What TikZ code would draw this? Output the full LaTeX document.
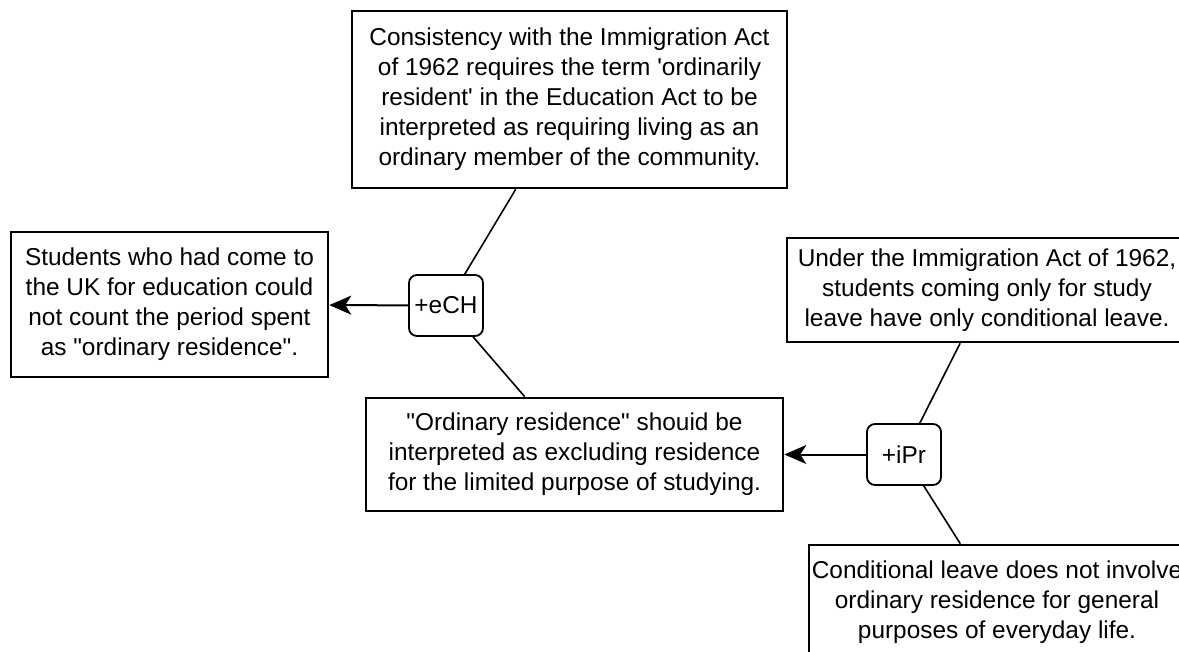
\documentclass[tikz,border=0pt]{standalone}
\usepackage{fontspec}
\setmainfont{Liberation Sans}[Ligatures=TeXOff]
\usetikzlibrary{arrows.meta}
\begin{document}
\begin{tikzpicture}[x=1pt,y=-1pt,
  claim/.style={draw=black, line width=2.6pt, fill=white, rectangle, align=center, inner sep=0pt,
     font=\fontsize{24.4}{30}\selectfont},
  rel/.style={draw=black, line width=1.8pt, fill=white, rounded corners=8pt, inner sep=0pt,
     minimum width=74pt, minimum height=61pt, font=\fontsize{24.4}{30}\selectfont},
  link/.style={line width=1.6pt},
  arr/.style={line width=2pt, -{Stealth[length=22pt,width=19pt,inset=6pt]}}]
\useasboundingbox (0,0) rectangle (1179,652);
\clip (0,0) rectangle (1179,652);
\fill[white] (0,0) rectangle (1179,652);
\node[claim, minimum width=435pt, minimum height=177pt] (top) at (569.5,99.5)
  {Consistency with the Immigration Act\\ of 1962 requires the term 'ordinarily\\ resident' in the Education Act to be\\ interpreted as requiring living as an\\ ordinary member of the community.};
\node[claim, minimum width=317pt, minimum height=145pt] (left) at (169.5,304.5)
  {Students who had come to\\ the UK for education could\\ not count the period spent\\ as "ordinary residence".};
\node[claim, minimum width=417pt, minimum height=113pt] (mid) at (574.5,454.5)
  {"Ordinary residence" shouid be\\ interpreted as excluding residence\\ for the limited purpose of studying.};
\node[claim, minimum width=400pt, minimum height=104pt] (rt) at (987,290)
  {Under the Immigration Act of 1962,\\ students coming only for study\\ leave have only conditional leave.};
\node[claim, minimum width=376pt, minimum height=114pt] (bot) at (997,602)
  {Conditional leave does not involve\\ ordinary residence for general\\ purposes of everyday life.};
\node[rel] (ech) at (446,305.5) {+eCH};
\node[rel] (ipr) at (904,454.5) {+iPr};
\draw[link] (top) -- (ech);
\draw[link] (ech) -- (mid);
\draw[arr] (ech) -- (left);
\draw[link] (rt) -- (ipr);
\draw[link] (ipr) -- (bot);
\draw[arr] (ipr) -- (mid);
\end{tikzpicture}
\end{document}
